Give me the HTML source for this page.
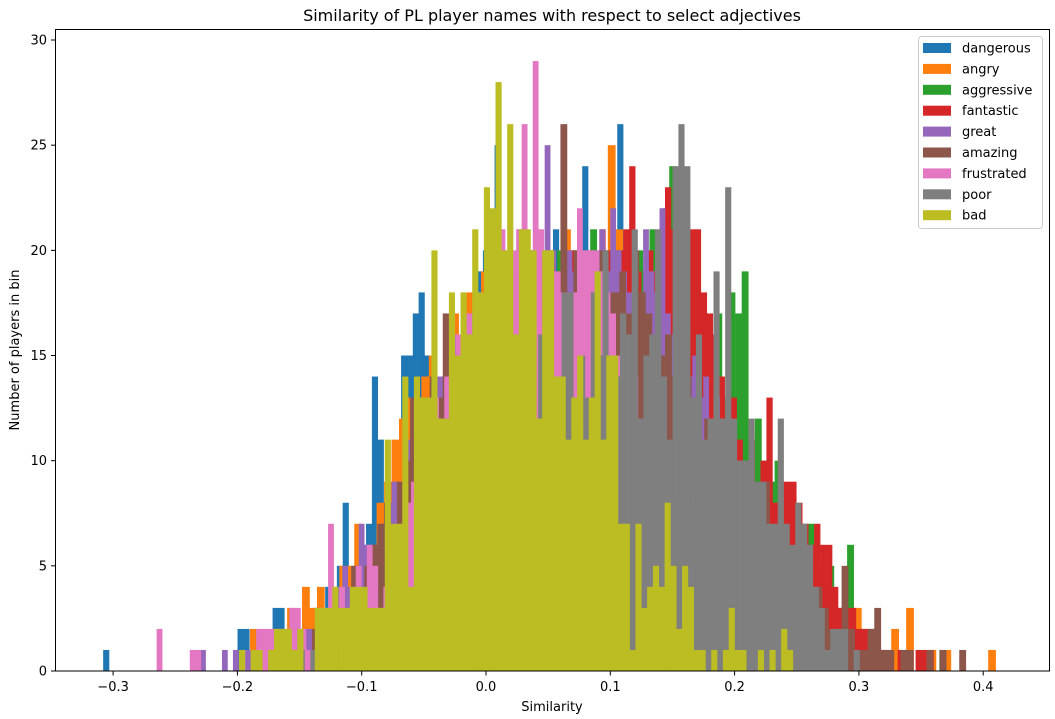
<!DOCTYPE html>
<html><head><meta charset="utf-8"><style>
body{margin:0;background:#fff;}
svg{display:block;font-family:"DejaVu Sans","Liberation Sans",sans-serif;}
</style></head><body>
<svg id="chart" width="1055" height="719" viewBox="0 0 1055 719">
<rect x="0" y="0" width="1055" height="719" fill="#fff"/>
<g id="bars"></g>
<rect x="55.5" y="29.5" width="994" height="641.5" fill="none" stroke="#000" stroke-width="1"/>
<g id="axes"></g>
<text x="552" y="21" text-anchor="middle" font-size="16">Similarity of PL player names with respect to select adjectives</text>
<text x="552" y="711" text-anchor="middle" font-size="13">Similarity</text>
<text x="19" y="350" text-anchor="middle" font-size="13" transform="rotate(-90 19 350)">Number of players in bin</text>
<g id="legend"></g>
</svg>
<script>
const seriesNames = ["dangerous","angry","aggressive","fantastic","great","amazing","frustrated","poor","bad"];
const seriesColors = ["#1f77b4","#ff7f0e","#2ca02c","#d62728","#9467bd","#8c564b","#e377c2","#7f7f7f","#bcbd22"];
const binStarts = [-0.308,-0.19,-0.16,-0.12,-0.23,-0.14,-0.265,-0.1695,-0.1987];
const binWidths = [0.0047,0.006,0.0053,0.0048,0.0044,0.00526,0.00445,0.0047,0.00469];
const dangerousCounts = [1,0,0,0,0,0,0,0,0,0,0,0,0,0,0,0,0,0,0,0,0,0,0,2,2,0,1,0,1,3,3,1,2,1,2,2,3,2,4,3,5,8,4,5,6,7,14,11,6,9,10,15,15,17,18,15,15,12,14,14,16,15,17,18,19,20,21,25,20,19,17,18,16,19,20,18,17,21,19,17,16,20,24,19,18,17,15,16,26,14,12,11,9,8,5,3,2,1];
const angryCounts = [2,1,1,2,2,3,2,4,3,4,3,4,5,5,7,5,6,8,9,11,12,13,12,14,15,14,16,17,16,18,17,19,18,20,18,19,20,19,21,18,20,19,21,20,18,19,17,20,25,21,18,17,15,16,15,14,13,12,12,11,10,9,10,8,8,7,7,6,6,5,5,4,4,3,3,3,2,2,2,1,1,3,1,1,1,0,2,0,3,0,0,1,0,1,0,0,0,0,0,1];
const aggressiveCounts = [1,0,1,1,2,1,2,3,2,3,4,3,5,4,6,6,7,8,9,9,10,11,12,11,13,12,14,13,15,14,16,15,16,17,16,18,17,18,19,18,19,20,18,19,20,19,21,20,18,19,20,19,18,20,19,21,20,22,24,20,19,16,17,15,14,17,13,18,17,19,11,12,10,9,10,8,8,7,6,7,5,4,5,3,3,6,2,2,2,2,1,1,0,1,1,0,1,0,0,1];
const fantasticCounts = [1,0,1,1,2,2,3,2,3,4,4,5,5,6,7,7,8,9,10,10,11,12,13,13,14,14,15,15,16,16,17,16,17,18,17,18,19,18,19,20,19,18,20,19,21,20,19,20,21,24,19,18,20,19,20,23,21,19,21,21,21,18,17,16,14,12,13,11,10,11,9,10,13,8,9,9,9,8,7,6,7,6,6,4,3,3,3,2,2,2,1,1,1,0,1,0,0,1,1,1];
const greatCounts = [1,0,0,0,1,0,1,0,1,1,0,1,1,1,2,1,2,1,2,2,2,3,2,3,3,4,5,4,5,7,6,5,6,7,8,9,9,10,11,11,12,13,13,14,14,15,16,15,16,17,16,17,18,17,18,19,18,19,21,19,20,18,19,25,20,19,18,20,19,18,19,20,19,21,19,22,20,19,18,17,18,21,19,18,22,17,16,15,16,14,15,13,14,12,13,12,11,11,10,10];
const amazingCounts = [2,1,1,2,2,3,5,4,5,6,7,8,7,9,10,13,11,12,14,13,17,14,15,16,15,17,16,18,17,19,18,17,19,20,18,19,20,19,26,18,20,19,18,19,20,18,18,19,17,20,18,17,16,15,16,14,13,14,12,11,12,10,11,9,8,9,7,8,7,9,6,5,6,5,4,4,3,4,3,2,2,5,2,1,1,2,3,1,1,0,1,1,0,0,1,0,1,0,0,1];
const frustratedCounts = [2,0,0,0,0,0,1,1,0,0,0,0,0,0,0,1,0,1,2,2,2,2,2,1,3,3,2,1,1,2,3,7,3,4,3,4,5,4,6,5,3,4,6,5,7,8,9,10,11,12,13,12,14,15,16,15,17,16,18,17,19,18,21,19,20,21,26,20,29,21,20,19,19,18,17,18,22,20,20,20,19,18,17,15,14,13,14,12,11,10,11,9,9,8,8,7,8,7,11,6];
const poorCounts = [1,0,1,0,1,0,1,1,1,1,1,2,1,2,2,1,2,2,2,3,2,3,3,4,5,6,8,9,10,12,12,14,13,14,15,15,16,16,17,16,15,15,14,13,12,16,12,13,14,18,18,12,15,13,18,15,20,14,14,17,16,21,12,15,16,21,14,11,24,26,24,13,16,11,12,19,12,23,12,10,10,12,9,9,7,7,12,7,6,8,7,6,4,3,1,2,2,2,0,1];
const badCounts = [1,0,1,1,0,1,2,2,2,1,2,0,0,3,3,3,4,3,3,4,4,4,3,3,3,11,7,7,14,4,14,13,13,20,12,12,18,15,18,16,21,18,23,22,28,20,26,16,21,21,20,12,20,20,14,14,11,13,15,11,13,19,11,15,15,7,7,1,7,3,4,5,4,8,5,2,5,4,1,1,0,1,0,1,3,1,1,0,0,1,0,1,0,2,1];
const seriesCounts = [dangerousCounts,angryCounts,aggressiveCounts,fantasticCounts,greatCounts,amazingCounts,frustratedCounts,poorCounts,badCounts];
const xTicks = [-0.3,-0.2,-0.1,0.0,0.1,0.2,0.3,0.4];
const xTickLabels = ["−0.3","−0.2","−0.1","0.0","0.1","0.2","0.3","0.4"];
const yTicks = [0,5,10,15,20,25,30];

const NS = "http://www.w3.org/2000/svg";
function xScale(v){ return 486 + v*1243; }
function yScale(c){ return 671 - c*21.033; }
function mk(tag, attrs, parent){ const e=document.createElementNS(NS,tag); for(const k in attrs) e.setAttribute(k,attrs[k]); parent.appendChild(e); return e; }

const bars = document.getElementById('bars');
seriesCounts.forEach((counts, s) => {
  const g = mk('g', {fill: seriesColors[s]}, bars);
  
  
  counts.forEach((c, i) => {
    if (c <= 0) return;
    const x0 = xScale(binStarts[s] + i*binWidths[s]);
    const x1 = xScale(binStarts[s] + (i+1)*binWidths[s]);
    const r = mk('rect', {x: x0, y: yScale(c), width: x1 - x0 + 0.3, height: yScale(0) - yScale(c)}, g);
    
    
  });
});

const axes = document.getElementById('axes');
xTicks.forEach((t, i) => {
  const x = xScale(t);
  const l = mk('line', {x1:x, x2:x, y1:671, y2:675.5, stroke:'#000'}, axes);
  
  
  const tx = mk('text', {x:x, y:691, 'text-anchor':'middle', 'font-size':13}, axes);
  tx.textContent = xTickLabels[i];
  
  
});
yTicks.forEach(t => {
  const y = yScale(t);
  const l = mk('line', {x1:51, x2:55.5, y1:y, y2:y, stroke:'#000'}, axes);
  
  
  const tx = mk('text', {x:47, y:y+4.5, 'text-anchor':'end', 'font-size':13}, axes);
  tx.textContent = String(t);
  
  
});

const legend = document.getElementById('legend');
const lb = mk('rect', {x:918.5, y:36.5, width:124, height:192, rx:3, fill:'#fff', 'fill-opacity':0.8, stroke:'#ccc'}, legend);


seriesNames.forEach((n, i) => {
  const y = 48 + i*20.9;
  const g = mk('g', {}, legend);
  
  
  mk('rect', {x:923, y:y-5, width:28, height:10, fill:seriesColors[i]}, g);
  const t = mk('text', {x:962, y:y+4.5, 'font-size':13}, g);
  t.textContent = n;
});
</script>
</body></html>
